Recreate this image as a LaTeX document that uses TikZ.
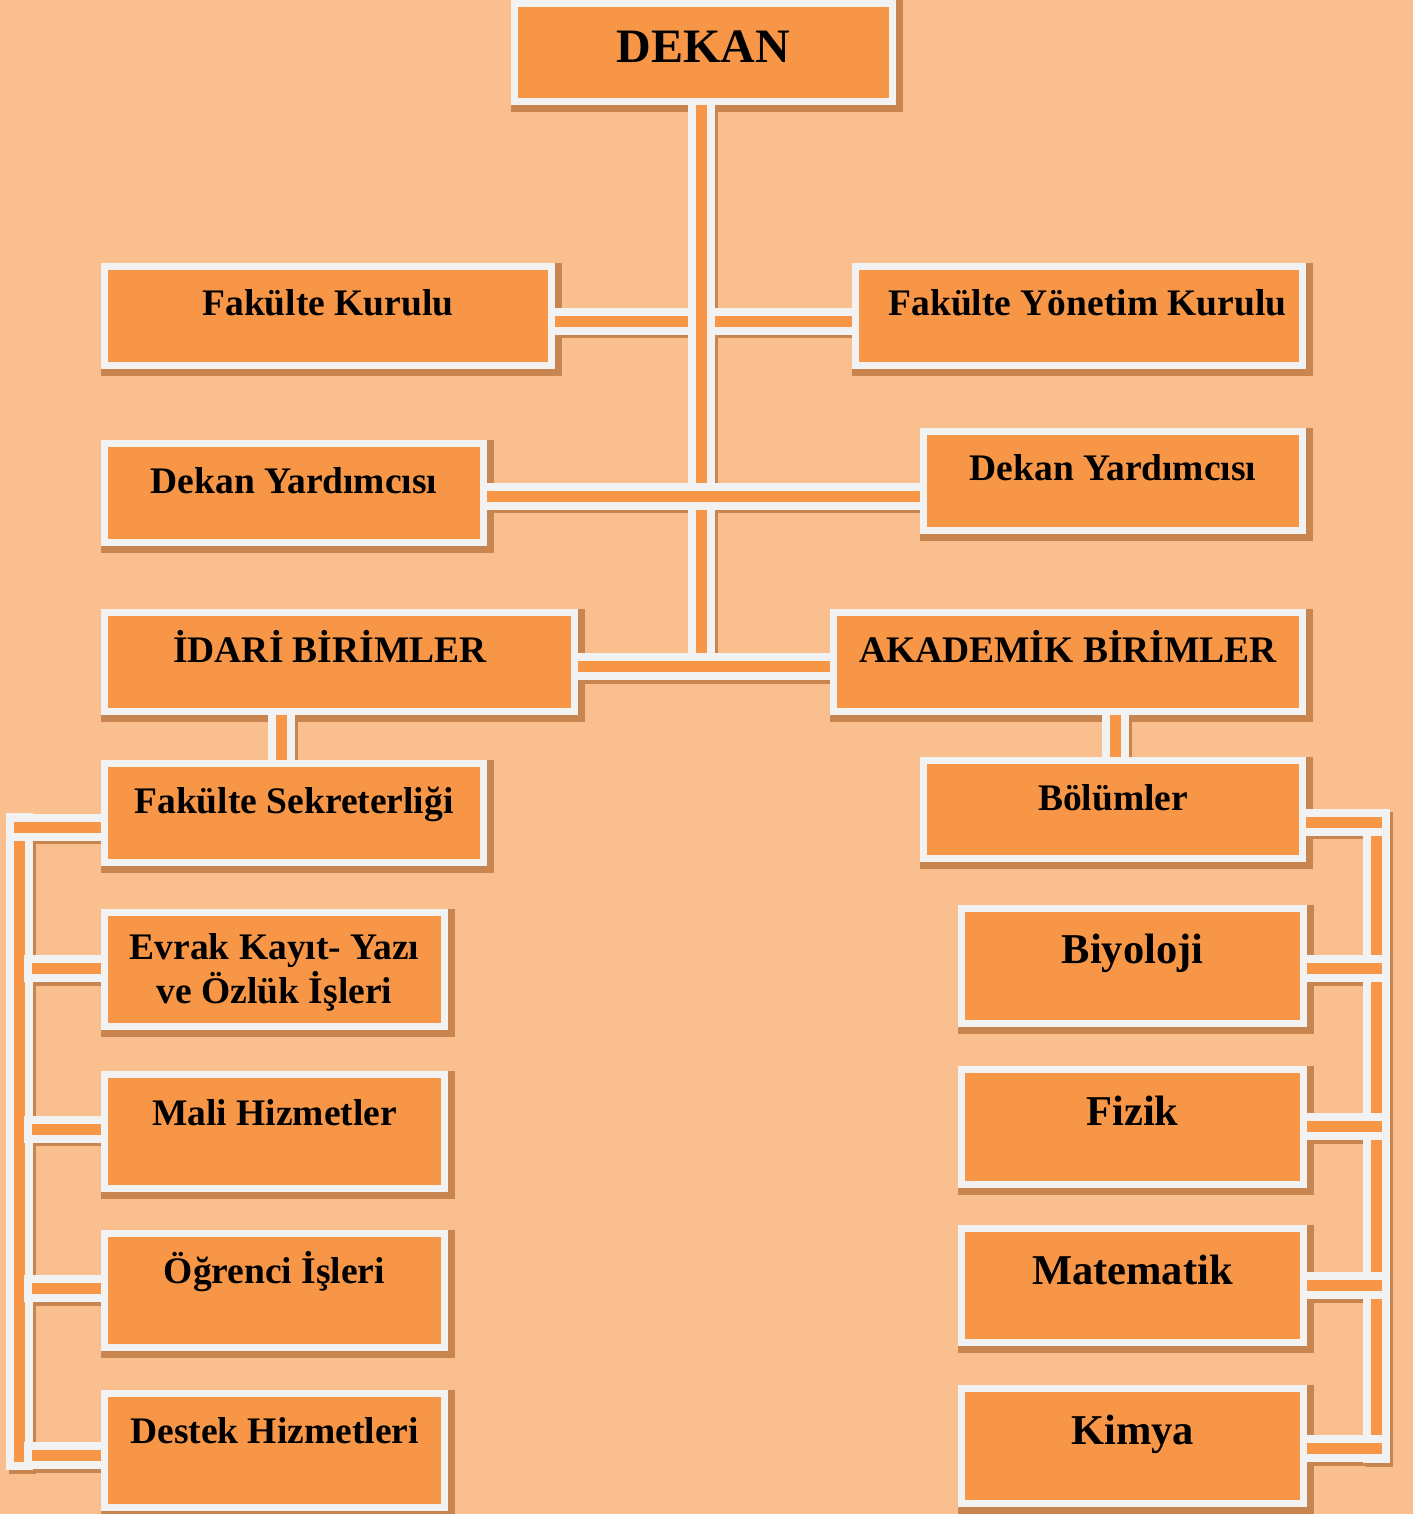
\documentclass[tikz,border=0pt]{standalone}
\usepackage{fontspec}
\setmainfont{Liberation Serif}
\usetikzlibrary{calc}
\definecolor{bgc}{HTML}{F9BF8F}
\definecolor{orc}{HTML}{F79646}
\definecolor{whc}{HTML}{F2F2F2}
\definecolor{shc}{HTML}{C9854F}
\pgfdeclarelayer{shadowlayer}
\pgfdeclarelayer{barlayer}
\pgfsetlayers{shadowlayer,barlayer,main}
\newcommand\myconn[1]{%
  \begin{pgfonlayer}{shadowlayer}\draw[barshadow] #1;\end{pgfonlayer}%
  \begin{pgfonlayer}{barlayer}\draw[bar] #1;\end{pgfonlayer}}
\newcommand\myshadow[1]{%
  \begin{pgfonlayer}{shadowlayer}\filldraw[boxshadow] (#1.south west) rectangle (#1.north east);\end{pgfonlayer}}
\tikzset{
  box/.style={draw=whc, fill=orc, line width=7pt, text=black, inner sep=0pt,
    font=\bfseries\fontsize{37.5pt}{40pt}\selectfont, text height=20pt},
  big/.style={font=\bfseries\fontsize{42.5pt}{46pt}\selectfont},
  bar/.style={draw=whc, line width=8pt, double=orc, double distance=11pt, line cap=rect},
  barshadow/.style={draw=shc, line width=27pt, line cap=rect, transform canvas={xshift=3pt,yshift=-3.5pt}},
  boxshadow/.style={draw=shc, fill=shc, line width=7pt, transform canvas={xshift=3pt,yshift=-3.5pt}},
}
\begin{document}
\begin{tikzpicture}[x=1pt,y=-1pt]
\useasboundingbox (0,0) rectangle (1413,1514);
\begin{pgfonlayer}{shadowlayer}
\fill[bgc] (0,0) rectangle (1413,1514);
\end{pgfonlayer}

% boxes
\node[box, minimum width=378pt, minimum height=98pt, text height=30pt, text depth=9pt,
  font=\bfseries\fontsize{48pt}{52pt}\selectfont] (dekan) at (703.5,52.5) {DEKAN};
\node[box, minimum width=447pt, minimum height=99pt, text depth=22pt] (fk) at (328,316) {Fakülte Kurulu};
\node[box, minimum width=447pt, minimum height=99pt, text depth=22pt] (fyk) at (1079,316) {\hspace*{17pt}Fakülte Yönetim Kurulu};
\node[box, minimum width=379pt, minimum height=99pt, text depth=20pt] (dyl) at (294,493) {Dekan Yardımcısı};
\node[box, minimum width=379pt, minimum height=99pt, text depth=22pt] (dyr) at (1113,481) {Dekan Yardımcısı};
\node[box, minimum width=470pt, minimum height=99pt, text depth=20pt] (idari) at (339.5,662) {İDARİ BİRİMLER\hspace*{19pt}};
\node[box, minimum width=469pt, minimum height=99pt, text depth=20pt] (akad) at (1068,662) {AKADEMİK BİRİMLER};
\node[box, minimum width=379pt, minimum height=99pt, text depth=20pt] (fs) at (294,813) {Fakülte Sekreterliği};
\node[box, minimum width=379pt, minimum height=98pt, text depth=19pt] (bol) at (1113,809.5) {Bölümler};
\node[box, minimum width=340pt, minimum height=114pt, text height=, text depth=] (evrak) at (274.5,969.5)
  {\raisebox{-4pt}[\height][\depth]{\begin{tabular}{@{}c@{}}Evrak Kayıt- Yazı\\ve Özlük İşleri\end{tabular}}};
\node[box, minimum width=340pt, minimum height=114pt, text depth=33pt] (mali) at (274.5,1131.5) {Mali Hizmetler};
\node[box, minimum width=340pt, minimum height=114pt, text depth=35pt] (ogr) at (274.5,1290.5) {Öğrenci İşleri};
\node[box, minimum width=340pt, minimum height=114pt, text depth=35pt] (destek) at (274.5,1450.5) {Destek Hizmetleri};
\node[box, big, minimum width=342pt, minimum height=115pt, text depth=26pt] (biy) at (1132.5,966) {Biyoloji};
\node[box, big, minimum width=342pt, minimum height=115pt, text depth=24pt] (fiz) at (1132.5,1127) {Fizik};
\node[box, big, minimum width=342pt, minimum height=114pt, text depth=23pt] (mat) at (1132.5,1285.5) {Matematik};
\node[box, big, minimum width=342pt, minimum height=115pt, text depth=24pt] (kim) at (1132.5,1446) {Kimya};

\foreach \n in {dekan,fk,fyk,dyl,dyr,idari,akad,fs,bol,evrak,mali,ogr,destek,biy,fiz,mat,kim}{\myshadow{\n}}

% junction coordinates
\coordinate (jFK) at (701.5,321);
\coordinate (jDY) at (701.5,496);
\coordinate (jID) at (701.5,666.5);
\coordinate (xI) at (281,0);
\coordinate (xA) at (1115,0);
\coordinate (lTop) at (19,826.5);
\coordinate (lBot) at (19,1456.5);
\coordinate (lFS) at (19.5,827);
\coordinate (lEV) at (37.5,968.5);
\coordinate (lMA) at (37.5,1129);
\coordinate (lOG) at (37.5,1288.5);
\coordinate (lDE) at (37.5,1455.5);
\coordinate (rTop) at (1376.5,822.5);
\coordinate (rBot) at (1376.5,1449.5);
\coordinate (rBO) at (1376.5,822);
\coordinate (rBI) at (1376.5,968.5);
\coordinate (rFI) at (1376.5,1126.5);
\coordinate (rMA) at (1376.5,1285.5);
\coordinate (rKI) at (1376.5,1448.5);

% connectors
\myconn{(fk.east |- jFK) -- (jFK)}
\myconn{(jFK) -- (fyk.west |- jFK)}
\myconn{(dekan.south -| jID) -- (jID)}
\myconn{(dyl.east |- jDY) -- (dyr.west |- jDY)}
\myconn{(idari.east |- jID) -- (akad.west |- jID)}
\myconn{(idari.south -| xI) -- (fs.north -| xI)}
\myconn{(akad.south -| xA) -- (bol.north -| xA)}
\myconn{(lTop) -- (lBot)}
\myconn{(lFS) -- (fs.west |- lFS)}
\myconn{(lEV) -- (evrak.west |- lEV)}
\myconn{(lMA) -- (mali.west |- lMA)}
\myconn{(lOG) -- (ogr.west |- lOG)}
\myconn{(lDE) -- (destek.west |- lDE)}
\myconn{(rTop) -- (rBot)}
\myconn{(bol.east |- rBO) -- (rBO)}
\myconn{(biy.east |- rBI) -- (rBI)}
\myconn{(fiz.east |- rFI) -- (rFI)}
\myconn{(mat.east |- rMA) -- (rMA)}
\myconn{(kim.east |- rKI) -- (rKI)}
\end{tikzpicture}
\end{document}
